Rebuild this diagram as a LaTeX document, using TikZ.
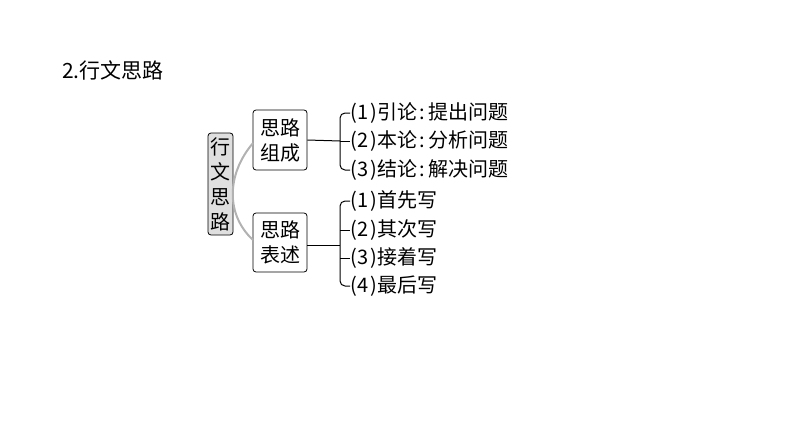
\documentclass[tikz,border=0pt]{standalone}
\usepackage{fontspec}
\setmainfont{Noto Sans CJK SC}
\newcommand{\pn}[1]{(\kern1pt#1\kern1pt)\kern1pt}
\newcommand{\cl}{\kern2pt:\kern3pt}
\begin{document}
\begin{tikzpicture}[x=1pt,y=-1pt,
  box/.style={draw,thick,rounded corners=3pt,inner sep=2pt,font=\fontsize{20}{25}\selectfont,align=center},
  item/.style={anchor=west,inner sep=0pt,font=\fontsize{20}{20}\selectfont},
  ln/.style={line width=1pt}]
\useasboundingbox (0,0) rectangle (794,447);
\node[anchor=west,inner sep=0pt,font=\fontsize{21}{22}\selectfont] (t) at (62,70) {2.行文思路};
\node[box,fill=gray!25,minimum width=25pt,minimum height=102pt,text width=20pt,inner sep=1pt] (r) at (220.5,184) {行\\文\\思\\路};
\node[box,minimum width=54pt,minimum height=60pt] (a) at (280,140) {思路\\组成};
\node[box,minimum width=54pt,minimum height=59pt] (b) at (280,242.5) {思路\\表述};
\draw[gray!60,line width=2pt] (253,143) .. controls (226,175) and (226,215) .. (253,240);
\node[item] (a1) at (350,113) {\pn{1}引论\cl 提出问题};
\node[item] (a2) at (350,141) {\pn{2}本论\cl 分析问题};
\node[item] (a3) at (350,170) {\pn{3}结论\cl 解决问题};
\node[item] (b1) at (350,201) {\pn{1}首先写};
\node[item] (b2) at (350,230) {\pn{2}其次写};
\node[item] (b3) at (350,258) {\pn{3}接着写};
\node[item] (b4) at (350,286) {\pn{4}最后写};
\coordinate (ja) at (340,141);
\coordinate (jb) at (340,245);
\draw[ln] (a.east) -- (ja);
\draw[ln,rounded corners=5pt] (a1.west) -- (340,113) -- (340,170) -- (a3.west);
\draw[ln] (ja) -- (a2.west);
\draw[ln] (b.east|-jb) -- (jb);
\draw[ln,rounded corners=5pt] (b1.west) -- (340,201) -- (340,286) -- (b4.west);
\draw[ln] (340,230) -- (b2.west);
\draw[ln] (340,258) -- (b3.west);
\end{tikzpicture}
\end{document}
